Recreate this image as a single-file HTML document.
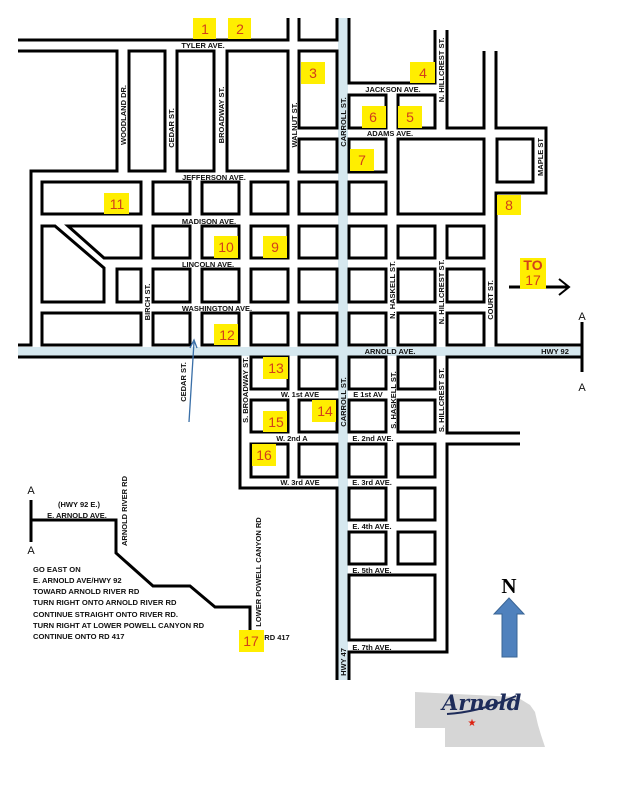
<!DOCTYPE html>
<html><head><meta charset="utf-8"><style>
html,body{margin:0;padding:0;background:#fff;}
svg{display:block;}
.b{fill:#fff;stroke:#000;stroke-width:3;}
.l{fill:none;stroke:#000;stroke-width:3;}
.t{font-family:"Liberation Sans",sans-serif;font-weight:bold;font-size:7.5px;fill:#111;}
.n{font-family:"Liberation Sans",sans-serif;font-size:14px;fill:#d2401a;text-anchor:middle;}
.y{fill:#ffee00;}
.d{font-family:"Liberation Sans",sans-serif;font-weight:bold;font-size:7.6px;fill:#111;}
</style></head><body>
<svg width="618" height="800" viewBox="0 0 618 800" xmlns="http://www.w3.org/2000/svg">
<!-- blue streets -->
<rect x="18" y="347" width="564" height="9" fill="#d6e8ef"/>
<rect x="338" y="18" width="10" height="662" fill="#d6e8ef"/>

<!-- top lines -->
<polyline class="l" points="18,40 288,40 288,18"/>
<polyline class="l" points="299,18 299,40 337,40 337,18"/>
<polyline class="l" points="18,51 117,51 117,171 31,171 31,345 18,345"/>
<rect class="b" x="129" y="51" width="36" height="120"/>
<rect class="b" x="177" y="51" width="37" height="120"/>
<rect class="b" x="227" y="51" width="61" height="120"/>
<rect class="b" x="299" y="51" width="38" height="77"/>
<polyline class="l" points="349,18 349,83 435,83 435,30"/>
<polyline class="l" points="447,30 447,128 484,128 484,51"/>
<polyline class="l" points="496,51 496,128 546,128 546,193 496,193 496,345 582,345"/>
<rect class="b" x="497" y="139" width="36" height="43"/>
<rect class="b" x="349" y="95" width="37" height="33"/>
<rect class="b" x="398" y="95" width="37" height="33"/>
<rect class="b" x="398" y="139" width="86" height="75"/>

<!-- left grid -->
<rect class="b" x="42" y="182" width="99" height="32"/>
<polygon class="b" points="42,226 55,226 104,268 104,302 42,302"/>
<polygon class="b" points="68,226 141,226 141,258 104,258"/>
<rect class="b" x="117" y="269" width="24" height="33"/>
<rect class="b" x="42" y="313" width="99" height="32"/>
<g>
<rect class="b" x="153" y="182" width="37" height="32"/><rect class="b" x="202" y="182" width="37" height="32"/><rect class="b" x="251" y="182" width="37" height="32"/>
<rect class="b" x="153" y="226" width="37" height="32"/><rect class="b" x="202" y="226" width="37" height="32"/><rect class="b" x="251" y="226" width="37" height="32"/>
<rect class="b" x="153" y="269" width="37" height="33"/><rect class="b" x="202" y="269" width="37" height="33"/><rect class="b" x="251" y="269" width="37" height="33"/>
<rect class="b" x="153" y="313" width="37" height="32"/><rect class="b" x="202" y="313" width="37" height="32"/><rect class="b" x="251" y="313" width="37" height="32"/>
</g>
<!-- walnut & right columns -->
<g>
<rect class="b" x="299" y="139" width="38" height="33"/><rect class="b" x="299" y="182" width="38" height="32"/><rect class="b" x="299" y="226" width="38" height="32"/><rect class="b" x="299" y="269" width="38" height="33"/><rect class="b" x="299" y="313" width="38" height="32"/>
<rect class="b" x="349" y="139" width="37" height="33"/><rect class="b" x="349" y="182" width="37" height="32"/><rect class="b" x="349" y="226" width="37" height="32"/><rect class="b" x="349" y="269" width="37" height="33"/><rect class="b" x="349" y="313" width="37" height="32"/>
<rect class="b" x="398" y="226" width="37" height="32"/><rect class="b" x="398" y="269" width="37" height="33"/><rect class="b" x="398" y="313" width="37" height="32"/>
<rect class="b" x="447" y="226" width="37" height="32"/><rect class="b" x="447" y="269" width="37" height="33"/><rect class="b" x="447" y="313" width="37" height="32"/>
</g>
<line class="l" x1="582" y1="322" x2="582" y2="372"/>

<!-- south -->
<polyline class="l" points="18,357 240,357 240,488 337,488 337,680"/>
<polyline class="l" points="582,357 447,357 447,433 520,433"/>
<polyline class="l" points="520,444 447,444 447,652 349,652 349,680"/>
<g>
<rect class="b" x="251" y="357" width="37" height="32"/><rect class="b" x="299" y="357" width="38" height="32"/><rect class="b" x="349" y="357" width="37" height="32"/><rect class="b" x="398" y="357" width="37" height="32"/>
<rect class="b" x="251" y="400" width="37" height="32"/><rect class="b" x="299" y="400" width="38" height="32"/><rect class="b" x="349" y="400" width="37" height="32"/><rect class="b" x="398" y="400" width="37" height="32"/>
<rect class="b" x="251" y="444" width="37" height="33"/><rect class="b" x="299" y="444" width="38" height="33"/><rect class="b" x="349" y="444" width="37" height="33"/><rect class="b" x="398" y="444" width="37" height="33"/>
<rect class="b" x="349" y="488" width="37" height="32"/><rect class="b" x="398" y="488" width="37" height="32"/>
<rect class="b" x="349" y="532" width="37" height="32"/><rect class="b" x="398" y="532" width="37" height="32"/>
<rect class="b" x="349" y="575" width="86" height="65"/>
</g>
<!-- cedar arrow -->
<line x1="189" y1="422" x2="194" y2="342" stroke="#3a6fa8" stroke-width="1.3"/>
<polyline points="190,348 194,340 197,348" fill="none" stroke="#3a6fa8" stroke-width="1.3"/>

<!-- route -->
<line class="l" x1="31" y1="500" x2="31" y2="542"/>
<polyline class="l" points="31,520 116,520 116,553 153,586 190,586 215,607 250,607 250,630"/>
<line class="l" x1="509" y1="287" x2="568" y2="287" stroke-width="2"/>
<polyline points="559,279 569,287 559,295" fill="none" stroke="#000" stroke-width="2"/>

<!-- labels horizontal -->
<g class="t" text-anchor="middle">
<text x="203" y="48">TYLER AVE.</text>
<text x="214" y="180">JEFFERSON AVE.</text>
<text x="209" y="224">MADISON AVE.</text>
<text x="208" y="267">LINCOLN AVE.</text>
<text x="217" y="311">WASHINGTON AVE.</text>
<text x="393" y="92">JACKSON AVE.</text>
<text x="390" y="136">ADAMS AVE.</text>
<text x="390" y="354">ARNOLD AVE.</text>
<text x="555" y="354">HWY 92</text>
<text x="300" y="397">W. 1st AVE</text>
<text x="368" y="397">E 1st AV</text>
<text x="292" y="441">W. 2nd A</text>
<text x="373" y="441">E. 2nd AVE.</text>
<text x="300" y="485">W. 3rd AVE</text>
<text x="372" y="485">E. 3rd AVE.</text>
<text x="372" y="529">E. 4th AVE.</text>
<text x="372" y="573">E. 5th AVE.</text>
<text x="372" y="650">E. 7th AVE.</text>
<text x="79" y="507">(HWY 92 E.)</text>
<text x="77" y="518">E. ARNOLD AVE.</text>
<text x="277" y="640">RD 417</text>
</g>
<g font-family="Liberation Sans,sans-serif" font-size="11" text-anchor="middle" fill="#111">
<text x="582" y="320">A</text><text x="582" y="391">A</text>
<text x="31" y="494">A</text><text x="31" y="554">A</text>
</g>
<!-- vertical labels -->
<g class="t" text-anchor="middle">
<text transform="translate(126,115) rotate(-90)">WOODLAND DR.</text>
<text transform="translate(174,128) rotate(-90)">CEDAR ST.</text>
<text transform="translate(224,115) rotate(-90)">BROADWAY ST.</text>
<text transform="translate(297,125) rotate(-90)">WALNUT ST.</text>
<text transform="translate(346,122) rotate(-90)">CARROLL ST.</text>
<text transform="translate(444,70) rotate(-90)">N. HILLCREST ST.</text>
<text transform="translate(543,157) rotate(-90)">MAPLE ST</text>
<text transform="translate(150,302) rotate(-90)">BIRCH ST.</text>
<text transform="translate(395,290) rotate(-90)">N. HASKELL ST.</text>
<text transform="translate(444,292) rotate(-90)">N. HILLCREST ST.</text>
<text transform="translate(493,300) rotate(-90)">COURT ST.</text>
<text transform="translate(186,382) rotate(-90)">CEDAR ST.</text>
<text transform="translate(248,390) rotate(-90)">S. BROADWAY ST.</text>
<text transform="translate(346,402) rotate(-90)">CARROLL ST.</text>
<text transform="translate(396,400) rotate(-90)">S. HASKELL ST.</text>
<text transform="translate(444,400) rotate(-90)">S. HILLCREST ST.</text>
<text transform="translate(346,662) rotate(-90)">HWY 47</text>
<text transform="translate(127,511) rotate(-90)">ARNOLD RIVER RD</text>
<text transform="translate(261,572) rotate(-90)">LOWER POWELL CANYON RD</text>
</g>
<!-- directions -->
<g class="d">
<text x="33" y="572">GO EAST ON</text>
<text x="33" y="583">E. ARNOLD AVE/HWY 92</text>
<text x="33" y="594">TOWARD ARNOLD RIVER RD</text>
<text x="33" y="605">TURN RIGHT ONTO ARNOLD RIVER RD</text>
<text x="33" y="617">CONTINUE STRAIGHT ONTO RIVER RD.</text>
<text x="33" y="628">TURN RIGHT AT LOWER POWELL CANYON RD</text>
<text x="33" y="639">CONTINUE ONTO RD 417</text>
</g>
<!-- numbers -->
<g>
<rect class="y" x="193" y="18" width="23" height="21"/><text class="n" x="205" y="34">1</text>
<rect class="y" x="228" y="18" width="23" height="21"/><text class="n" x="240" y="34">2</text>
<rect class="y" x="301" y="62" width="24" height="22"/><text class="n" x="313" y="78">3</text>
<rect class="y" x="410" y="62" width="25" height="21"/><text class="n" x="423" y="78">4</text>
<rect class="y" x="398" y="106" width="24" height="22"/><text class="n" x="410" y="122">5</text>
<rect class="y" x="362" y="106" width="24" height="22"/><text class="n" x="373" y="122">6</text>
<rect class="y" x="350" y="149" width="24" height="22"/><text class="n" x="362" y="165">7</text>
<rect class="y" x="497" y="195" width="24" height="20"/><text class="n" x="509" y="210">8</text>
<rect class="y" x="263" y="236" width="24" height="22"/><text class="n" x="275" y="252">9</text>
<rect class="y" x="214" y="236" width="24" height="22"/><text class="n" x="226" y="252">10</text>
<rect class="y" x="104" y="193" width="25" height="21"/><text class="n" x="117" y="209">11</text>
<rect class="y" x="214" y="324" width="24" height="21"/><text class="n" x="227" y="340">12</text>
<rect class="y" x="263" y="357" width="25" height="22"/><text class="n" x="276" y="373">13</text>
<rect class="y" x="312" y="400" width="24" height="22"/><text class="n" x="325" y="416">14</text>
<rect class="y" x="263" y="411" width="24" height="21"/><text class="n" x="276" y="427">15</text>
<rect class="y" x="252" y="444" width="24" height="22"/><text class="n" x="264" y="460">16</text>
<rect class="y" x="239" y="630" width="25" height="22"/><text class="n" x="251" y="646">17</text>
<rect class="y" x="520" y="258" width="26" height="31"/>
<text class="n" x="533" y="270" font-size="11" font-weight="bold">TO</text>
<text class="n" x="533" y="285">17</text>
</g>
<!-- North arrow -->
<text x="509" y="593" font-family="Liberation Serif,serif" font-weight="bold" font-size="21" text-anchor="middle">N</text>
<polygon points="509,598 524,614 517,614 517,657 502,657 502,614 494,614" fill="#4f81bd" stroke="#3a6595" stroke-width="1"/>
<!-- Nebraska -->
<polygon points="415,692 517,697 530,705 535,712 538,725 541,735 545,747 445,747 445,728 415,728" fill="#d6d6d6"/>
<text x="442" y="710" font-family="DejaVu Serif,serif" font-style="italic" font-weight="bold" font-size="21" fill="#1e2c5a">Arnold</text>
<path d="M447,714 Q480,712 516,696" stroke="#1e2c5a" stroke-width="2" fill="none"/>
<text x="472" y="726" font-size="10" fill="#d21" text-anchor="middle" font-family="DejaVu Sans,sans-serif">★</text>
</svg>
</body></html>
